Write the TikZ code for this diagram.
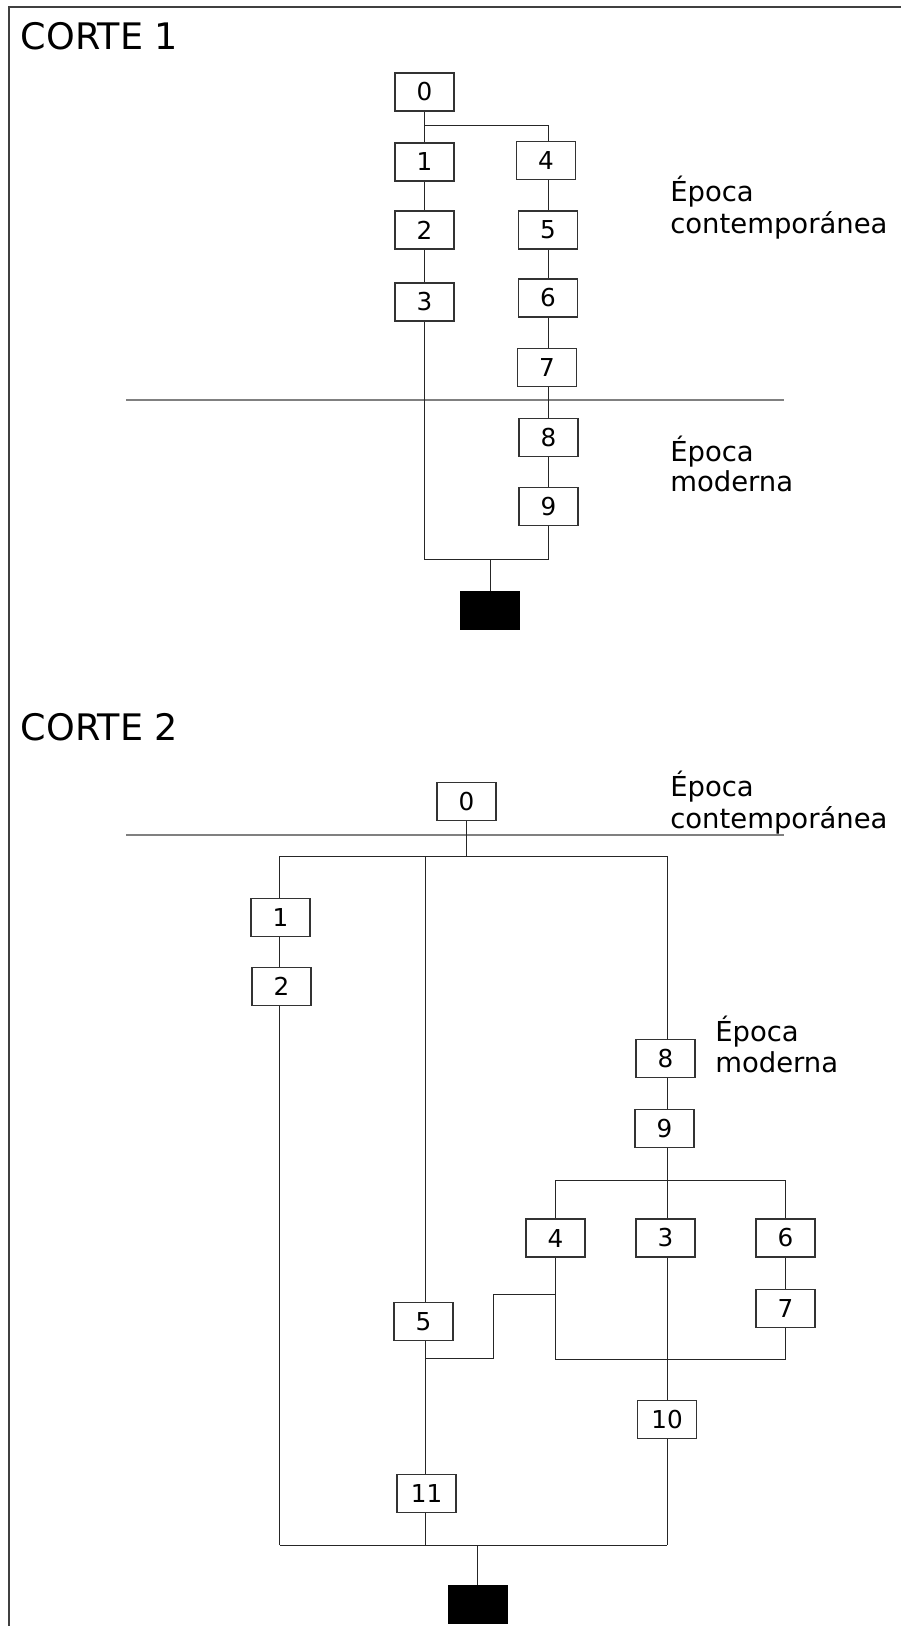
\documentclass[tikz,border=0pt]{standalone}
\usepackage{fontspec}
\setmainfont{DejaVu Sans}
\begin{document}
\begin{tikzpicture}[x=0.75pt,y=-0.75pt,
  box/.style={draw=black!80, line width=0.9pt, minimum width=44.25pt, minimum height=28.5pt, inner sep=0pt, fill=white, font=\fontsize{18.5}{20}\selectfont},
  endbox/.style={draw=black, fill=black, minimum width=44.25pt, minimum height=28.5pt, inner sep=0pt},
  conn/.style={line width=0.75pt, black!85},
  era/.style={line width=1.5pt, black!50},
  borderline/.style={line width=1.5pt, black!75},
  titletext/.style={anchor=base west, inner sep=0pt, font=\fontsize{27.4}{30}\selectfont},
  lbl/.style={anchor=base west, inner sep=0pt, font=\fontsize{20.6}{23}\selectfont}
]
\useasboundingbox[fill=white] (0,0) rectangle (901,1626);
\draw[borderline] (8.5,1626) -- (8.5,7.5) -- (901,7.5);

% ---------------- CORTE 1 ----------------
\node[titletext] (t1) at (20.5,49.3) {CORTE 1};

\node[box] (c1n0) at (424.5,92) {0};
\node[box] (c1n1) at (424.5,162) {1};
\node[box] (c1n2) at (424.5,230) {2};
\node[box] (c1n3) at (424.5,302) {3};
\node[box] (c1n4) at (546,160.7) {4};
\node[box] (c1n5) at (548,230) {5};
\node[box] (c1n6) at (548,298) {6};
\node[box] (c1n7) at (547,367.5) {7};
\node[box] (c1n8) at (548.5,437.3) {8};
\node[box] (c1n9) at (548.5,506.3) {9};
\node[endbox] (c1end) at (490,610) {};

\coordinate (c1b) at (424.5,126);
\coordinate (c1r) at (548.5,126);
\coordinate (c1j) at (490,559.3);
\coordinate (e1a) at (126.4,400);
\coordinate (e1b) at (784.4,400);

\draw[era] (e1a) -- (e1b);
\draw[conn] (c1n0.south) -- (c1n1.north);
\draw[conn] (c1b) -- (c1r) -- (c1r |- c1n4.north);
\draw[conn] (c1n1.south) -- (c1n2.north);
\draw[conn] (c1n2.south) -- (c1n3.north);
\draw[conn] (c1n4.south -| c1r) -- (c1n5.north -| c1r);
\draw[conn] (c1n5.south -| c1r) -- (c1n6.north -| c1r);
\draw[conn] (c1n6.south -| c1r) -- (c1n7.north -| c1r);
\draw[conn] (c1n7.south -| c1r) -- (c1n8.north -| c1r);
\draw[conn] (c1n8.south -| c1r) -- (c1n9.north -| c1r);
\draw[conn] (c1n3.south) -- (c1n3.south |- c1j) -- (c1r |- c1j) -- (c1n9.south -| c1r);
\draw[conn] (c1j) -- (c1end.north);

\node[lbl] (l1a) at (670,201.7) {Época};
\node[lbl] (l1b) at (670,234) {contemporánea};
\node[lbl] (l1c) at (670,461.7) {Época};
\node[lbl] (l1d) at (670,491.7) {moderna};

% ---------------- CORTE 2 ----------------
\node[titletext] (t2) at (20.5,740) {CORTE 2};

\node[box] (c2n0) at (466.5,801.7) {0};
\node[box] (c2n1) at (280.5,917.8) {1};
\node[box] (c2n2) at (281.5,986.5) {2};
\node[box] (c2n8) at (665.5,1058.5) {8};
\node[box] (c2n9) at (664.5,1128.5) {9};
\node[box] (c2n4) at (555.4,1238) {4};
\node[box] (c2n3) at (665.5,1238) {3};
\node[box] (c2n6) at (785.5,1238) {6};
\node[box] (c2n7) at (785.5,1308.3) {7};
\node[box] (c2n5) at (423.5,1321.7) {5};
\node[box] (c2n10) at (667,1419.2) {10};
\node[box] (c2n11) at (426.5,1493.2) {11};
\node[endbox] (c2end) at (477.5,1604.5) {};

\coordinate (e2a) at (126.4,835.3);
\coordinate (e2b) at (784.4,835.3);
\coordinate (c2b) at (466.5,856);
\coordinate (c2L) at (279.5,856);
\coordinate (c2M) at (425.8,856);
\coordinate (c2R) at (667,856);
\coordinate (c2br) at (667,1180);
\coordinate (c2j) at (555.4,1359.3);
\coordinate (c2k1) at (555.4,1294);
\coordinate (c2k2) at (493.6,1294);
\coordinate (c2k3) at (493.6,1358.3);
\coordinate (c2k4) at (425.8,1358.3);
\coordinate (c2bot) at (477.5,1545);

\draw[era] (e2a) -- (e2b);
\draw[conn] (c2n0.south -| c2b) -- (c2b);
\draw[conn] (c2L) -- (c2R);
% left column
\draw[conn] (c2L) -- (c2L |- c2n1.north);
\draw[conn] (c2n1.south -| c2L) -- (c2n2.north -| c2L);
\draw[conn] (c2n2.south -| c2L) -- (c2L |- c2bot);
% middle column
\draw[conn] (c2M) -- (c2M |- c2n5.north);
\draw[conn] (c2n5.south -| c2M) -- (c2n11.north -| c2M);
\draw[conn] (c2n11.south -| c2M) -- (c2M |- c2bot);
% right column
\draw[conn] (c2R) -- (c2R |- c2n8.north);
\draw[conn] (c2n8.south -| c2R) -- (c2n9.north -| c2R);
\draw[conn] (c2n9.south -| c2R) -- (c2n3.north -| c2R);
\draw[conn] (c2n3.south -| c2R) -- (c2n10.north -| c2R);
\draw[conn] (c2n10.south -| c2R) -- (c2R |- c2bot);
% branch to 4 and 6
\draw[conn] (c2n4.north) -- (c2n4.north |- c2br) -- (c2n6.north |- c2br) -- (c2n6.north);
\draw[conn] (c2n6.south) -- (c2n7.north);
% join of 4 and 7
\draw[conn] (c2n4.south) -- (c2j) -- (c2n7.south |- c2j) -- (c2n7.south);
% link to 5
\draw[conn] (c2k1) -- (c2k2) -- (c2k3) -- (c2k4);
% bottom join
\draw[conn] (c2L |- c2bot) -- (c2R |- c2bot);
\draw[conn] (c2bot) -- (c2end.north);

\node[lbl] (l2a) at (670,796.7) {Época};
\node[lbl] (l2b) at (670,828.3) {contemporánea};
\node[lbl] (l2c) at (715,1041) {Época};
\node[lbl] (l2d) at (715,1072.7) {moderna};
\end{tikzpicture}
\end{document}
